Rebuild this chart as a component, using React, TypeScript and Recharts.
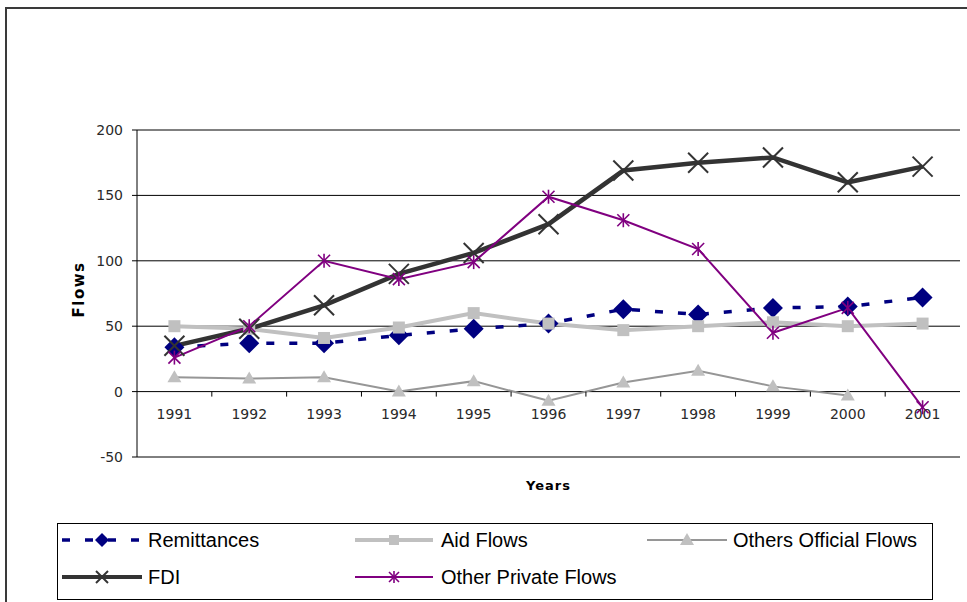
import React from "react";
import {
  LineChart,
  Line,
  XAxis,
  YAxis,
  CartesianGrid,
  ReferenceLine,
} from "recharts";

// Annual flows, 1991-2001
const years = ["1991", "1992", "1993", "1994", "1995", "1996", "1997", "1998", "1999", "2000", "2001"];
const remittances = [34, 37, 37, 43, 48, 52, 63, 59, 64, 65, 72];
const aidFlows = [50, 48, 41, 49, 60, 52, 47, 50, 53, 50, 52];
const othersOfficial = [11, 10, 11, 0, 8, -7, 7, 16, 4, -3, null];
const fdi = [35, 48, 66, 90, 106, 128, 169, 175, 179, 160, 172];
const otherPrivate = [26, 50, 100, 86, 99, 149, 131, 109, 45, 64, -12];
const yTicks = [-50, 0, 50, 100, 150, 200];

const data = years.map((year, i) => ({
  year,
  remittances: remittances[i],
  aidFlows: aidFlows[i],
  othersOfficial: othersOfficial[i],
  fdi: fdi[i],
  otherPrivate: otherPrivate[i],
}));

const W = 967;
const CHART_H = 502;
const M = { top: 130, right: 7, left: 77, bottom: 5 };
const PLOT_LEFT = 137;
const PLOT_W = W - M.right - PLOT_LEFT;
const PLOT_BOTTOM = CHART_H - M.bottom - 40;
const BAND = PLOT_W / years.length;
// x axis crosses at zero, not at the bottom of the plot
const ZERO_Y = M.top + ((PLOT_BOTTOM - M.top) * 200) / 250;

const NAVY = "#000080";
const LIGHT = "#c0c0c0";
const MID = "#969696";
const DARK = "#333333";
const PURPLE = "#800080";
const DASH = "8 15";

const tickFont = { fontFamily: "DejaVu Sans, Verdana, sans-serif", fontSize: 14, fill: "#2a2a2a" };

type DotProps = { cx?: number | null; cy?: number | null; index?: number };

const diamond = (cx: number, cy: number, r = 10) => (
  <path d={`M${cx} ${cy - r}L${cx + r} ${cy}L${cx} ${cy + r}L${cx - r} ${cy}Z`} fill={NAVY} />
);
const square = (cx: number, cy: number, s = 12) => (
  <rect x={cx - s / 2} y={cy - s / 2} width={s} height={s} fill={LIGHT} />
);
const triangle = (cx: number, cy: number) => (
  <path d={`M${cx} ${cy - 7}L${cx + 7} ${cy + 5}L${cx - 7} ${cy + 5}Z`} fill={LIGHT} />
);
const cross = (cx: number, cy: number, r = 10) => (
  <g stroke={DARK} strokeWidth={2}>
    <line x1={cx - r} y1={cy - r} x2={cx + r} y2={cy + r} />
    <line x1={cx - r} y1={cy + r} x2={cx + r} y2={cy - r} />
  </g>
);
const star = (cx: number, cy: number, r = 6) => (
  <g stroke={PURPLE} strokeWidth={1.6}>
    <line x1={cx - r} y1={cy - r} x2={cx + r} y2={cy + r} />
    <line x1={cx - r} y1={cy + r} x2={cx + r} y2={cy - r} />
    <line x1={cx} y1={cy - r - 1} x2={cx} y2={cy + r + 1} />
  </g>
);

const makeDot = (draw: (cx: number, cy: number) => React.ReactElement) => (p: DotProps) =>
  p.cx == null || p.cy == null ? <g key={p.index} /> : <g key={p.index}>{draw(p.cx, p.cy)}</g>;

const YearTick = ({ x, payload, index }: { x: number; payload: { value: string }; index: number }) => (
  <g>
    {index > 0 && (
      <line x1={x - BAND / 2} x2={x - BAND / 2} y1={ZERO_Y} y2={ZERO_Y + 5} stroke="#000" />
    )}
    <text x={x} y={ZERO_Y + 27} textAnchor="middle" {...tickFont}>
      {payload.value}
    </text>
  </g>
);

const FlowsLabel = ({ viewBox }: { viewBox?: { x: number; y: number; width: number; height: number } }) => {
  if (!viewBox) return null;
  const cx = viewBox.x + 7;
  const cy = viewBox.y + viewBox.height / 2 - 4;
  return (
    <text
      x={cx}
      y={cy}
      transform={`rotate(-90 ${cx} ${cy})`}
      textAnchor="middle"
      fontFamily="DejaVu Sans, Verdana, sans-serif"
      fontWeight="bold"
      fontSize={15}
      letterSpacing={1.5}
      fill="#000"
    >
      Flows
    </text>
  );
};

const legendItems = [
  { name: "Remittances", icon: (
      <>
        <line x1={0} x2={80} y1={10} y2={10} stroke={NAVY} strokeWidth={3.5} strokeDasharray={DASH} />
        {diamond(40, 10, 7)}
      </>
    ), left: 62, top: 530 },
  { name: "Aid Flows", icon: (
      <>
        <line x1={0} x2={78} y1={10} y2={10} stroke={LIGHT} strokeWidth={4} />
        {square(39, 10, 10)}
      </>
    ), left: 355, top: 530 },
  { name: "Others Official Flows", icon: (
      <>
        <line x1={0} x2={80} y1={10} y2={10} stroke={MID} strokeWidth={2} />
        {triangle(40, 10)}
      </>
    ), left: 647, top: 530 },
  { name: "FDI", icon: (
      <>
        <line x1={0} x2={80} y1={10} y2={10} stroke={DARK} strokeWidth={4} />
        {cross(40, 10, 6)}
      </>
    ), left: 62, top: 567 },
  { name: "Other Private Flows", icon: (
      <>
        <line x1={0} x2={78} y1={10} y2={10} stroke={PURPLE} strokeWidth={2} />
        {star(39, 10, 5)}
      </>
    ), left: 355, top: 567 },
];

export default function App() {
  return (
    <div
      style={{
        position: "absolute",
        left: 0,
        top: 0,
        width: W,
        height: 602,
        overflow: "hidden",
        background: "#fff",
      }}
    >
      <div
        style={{
          position: "absolute",
          left: 5,
          top: 7,
          width: 980,
          height: 620,
          borderTop: "2px solid #3a3a3a",
          borderLeft: "2px solid #3a3a3a",
        }}
      />
      <div style={{ position: "absolute", left: 0, top: 0 }}>
        <LineChart width={W} height={CHART_H} data={data} margin={M}>
          <CartesianGrid vertical={false} stroke="#000" strokeWidth={1} />
          <XAxis
            dataKey="year"
            axisLine={false}
            tickLine={false}
            height={40}
            padding={{ left: BAND / 2, right: BAND / 2 }}
            tick={YearTick as any}
            interval={0}
            label={{
              value: "Years",
              position: "insideBottom",
              offset: 7,
              fontFamily: "DejaVu Sans, Verdana, sans-serif",
              fontWeight: "bold",
              fontSize: 13,
              letterSpacing: 1,
              fill: "#000",
            }}
          />
          <YAxis
            domain={[-50, 200]}
            ticks={yTicks}
            width={60}
            axisLine={{ stroke: "#000" }}
            tickLine={{ stroke: "#000" }}
            tickSize={5}
            tickMargin={9}
            tick={tickFont}
            label={<FlowsLabel />}
          />
          <YAxis
            yAxisId="frame"
            orientation="right"
            domain={[-50, 200]}
            width={0}
            tick={false}
            tickLine={false}
            axisLine={{ stroke: "#808080" }}
          />
          <ReferenceLine y={200} stroke="#808080" />
          <ReferenceLine y={-50} stroke="#808080" />
          <Line
            dataKey="remittances"
            stroke={NAVY}
            strokeWidth={3.5}
            strokeDasharray={DASH}
            dot={makeDot((x, y) => diamond(x, y))}
            isAnimationActive={false}
          />
          <Line
            dataKey="aidFlows"
            stroke={LIGHT}
            strokeWidth={4}
            dot={makeDot((x, y) => square(x, y))}
            isAnimationActive={false}
          />
          <Line
            dataKey="othersOfficial"
            stroke={MID}
            strokeWidth={2}
            dot={makeDot(triangle)}
            isAnimationActive={false}
          />
          <Line
            dataKey="fdi"
            stroke={DARK}
            strokeWidth={4.5}
            dot={makeDot((x, y) => cross(x, y))}
            isAnimationActive={false}
          />
          <Line
            dataKey="otherPrivate"
            stroke={PURPLE}
            strokeWidth={2}
            dot={makeDot((x, y) => star(x, y))}
            isAnimationActive={false}
          />
        </LineChart>
      </div>
      <div
        style={{
          position: "absolute",
          left: 57,
          top: 523,
          width: 874,
          height: 75,
          border: "1px solid #000",
        }}
      />
      {legendItems.map((item) => (
        <div
          key={item.name}
          style={{
            position: "absolute",
            left: item.left,
            top: item.top,
            display: "flex",
            alignItems: "center",
            height: 20,
            fontFamily: "Liberation Sans, Arial, sans-serif",
            fontSize: 20,
            color: "#000",
            whiteSpace: "nowrap",
          }}
        >
          <svg width={80} height={20} style={{ display: "block" }}>
            {item.icon}
          </svg>
          <span style={{ marginLeft: 6 }}>{item.name}</span>
        </div>
      ))}
    </div>
  );
}
